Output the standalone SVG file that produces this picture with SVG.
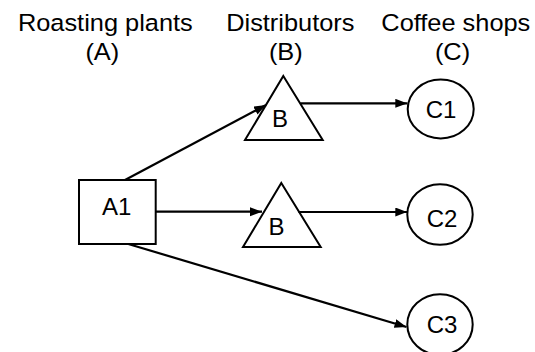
<svg xmlns="http://www.w3.org/2000/svg" width="535" height="352" viewBox="0 0 535 352">
  <style>
    .hdr { font-family: "Liberation Sans", Arial, sans-serif; font-size: 23.5px; fill: #000; text-anchor: middle; }
    .lbl { font-family: "Liberation Sans", Arial, sans-serif; font-size: 24px; fill: #000; text-anchor: middle; }
    .shape { fill: #fff; stroke: #000; stroke-width: 2; }
    .tri { fill: none; stroke: #000; stroke-width: 2; }
    .edge { fill: none; stroke: #000; stroke-width: 2.2; }
  </style>
  <defs>
    <marker id="arrow" markerUnits="userSpaceOnUse" markerWidth="12" markerHeight="10" refX="12" refY="4.5" orient="auto">
      <path d="M0,0 L12,4.5 L0,9 z" fill="#000"/>
    </marker>
  </defs>
  <rect width="535" height="352" fill="#fff"/>

  <!-- column headings -->
  <g id="headings">
    <text class="hdr" transform="translate(105.3,30.5) scale(1.08,1)">Roasting plants</text>
    <text class="hdr" transform="translate(102.3,59.5) scale(1.08,1)">(A)</text>
    <text class="hdr" transform="translate(290.3,30.5) scale(1.08,1)">Distributors</text>
    <text class="hdr" transform="translate(285.8,59.5) scale(1.08,1)">(B)</text>
    <text class="hdr" transform="translate(455.8,30.5) scale(1.08,1)">Coffee shops</text>
    <text class="hdr" transform="translate(452.5,59.5) scale(1.08,1)">(C)</text>
  </g>

  <!-- connectors -->
  <g id="connectors">
    <line class="edge" x1="125" y1="180" x2="266" y2="105" marker-end="url(#arrow)"/>
    <line class="edge" x1="156" y1="211.7" x2="262" y2="211.7" marker-end="url(#arrow)"/>
    <line class="edge" x1="128.3" y1="244" x2="406.5" y2="327" marker-end="url(#arrow)"/>
    <line class="edge" x1="300.5" y1="103.3" x2="407.3" y2="103.3" marker-end="url(#arrow)"/>
    <line class="edge" x1="298.5" y1="212" x2="407.3" y2="212" marker-end="url(#arrow)"/>
  </g>

  <!-- plant -->
  <g id="A1">
    <rect class="shape" x="79" y="180" width="76.7" height="64"/>
    <text class="lbl" x="116.7" y="215">A1</text>
  </g>

  <!-- distributors -->
  <g id="B-top">
    <polygon class="tri" points="283.3,76 322.7,140 245,140"/>
    <text class="lbl" x="280" y="126.5">B</text>
  </g>
  <g id="B-mid">
    <polygon class="tri" points="281.3,183 320.7,247 243,247"/>
    <text class="lbl" x="276.4" y="234.5">B</text>
  </g>

  <!-- coffee shops -->
  <g id="C1">
    <ellipse class="shape" cx="440.7" cy="109" rx="33" ry="29.5"/>
    <text class="lbl" x="441" y="118.3">C1</text>
  </g>
  <g id="C2">
    <ellipse class="shape" cx="440" cy="214.5" rx="32.7" ry="30.3"/>
    <text class="lbl" x="442" y="226.7">C2</text>
  </g>
  <g id="C3">
    <ellipse class="shape" cx="440" cy="324.5" rx="32.7" ry="30.3"/>
    <text class="lbl" x="442" y="333">C3</text>
  </g>
</svg>
